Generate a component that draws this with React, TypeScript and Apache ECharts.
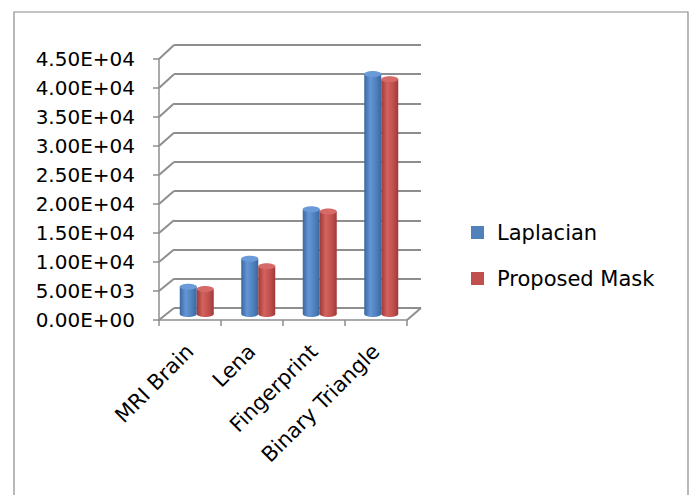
import React, { useEffect, useRef } from 'react';
import * as echarts from 'echarts';

const categories = ['MRI Brain', 'Lena', 'Fingerprint', 'Binary Triangle'];
const laplacian = [4700, 9500, 18000, 41200];
const proposedMask = [4300, 8200, 17600, 40300];
const seriesNames = ['Laplacian', 'Proposed Mask'];
const yMin = 0;
const yMax = 45000;
const yStep = 5000;

function fmt(v: number): string {
  const [m, e] = v.toExponential(2).split('e');
  const sign = e[0];
  const digits = e.slice(1).padStart(2, '0');
  return m + 'E' + sign + digits;
}

const FONT = 'DejaVu Sans';
const GRID_COLOR = '#8e8e8e';
const BAR_W = 17;

function grad(dark: string, light: string, mid: string) {
  return new echarts.graphic.LinearGradient(0, 0, 1, 0, [
    { offset: 0, color: dark },
    { offset: 0.35, color: light },
    { offset: 0.7, color: mid },
    { offset: 1, color: dark },
  ]);
}

export default function App() {
  const ref = useRef<HTMLDivElement>(null);
  useEffect(() => {
    const chart = echarts.init(ref.current!, null, { renderer: 'svg' });
    const grids = [
      { left: 159, top: 59, width: 248, height: 261 },
      { left: 174, top: 45, width: 247, height: 263 },
      { left: 166, top: 52, width: 246, height: 262 },
    ];
    const blue = grad('#3b679f', '#6496d6', '#4f81bd');
    const red = grad('#9c3b38', '#d4625e', '#c0504d');
    const barCommon = { xAxisIndex: 2, yAxisIndex: 2, barWidth: BAR_W, barGap: '0%' };

    const capSeries = (values: number[], side: number, topColor: string, bodyColor: any) => ({
      type: 'custom',
      xAxisIndex: 2,
      yAxisIndex: 2,
      silent: true,
      z: 3,
      data: values.map((v, i) => [i, v]),
      encode: { x: 0, y: 1 },
      renderItem: (params: any, api: any) => {
        const top = api.coord([api.value(0), api.value(1)]);
        const base = api.coord([api.value(0), 0]);
        const cx = top[0] + side * BAR_W / 2;
        return {
          type: 'group',
          children: [
            {
              type: 'ellipse',
              shape: { cx, cy: base[1], rx: BAR_W / 2, ry: 3 },
              style: { fill: bodyColor },
              z2: -1,
            },
            {
              type: 'ellipse',
              shape: { cx, cy: top[1], rx: BAR_W / 2, ry: 3 },
              style: { fill: topColor },
              z2: 1,
            },
          ],
        };
      },
    });

    chart.setOption({
      animation: false,
      backgroundColor: '#fff',
      grid: grids,
      xAxis: [
        {
          gridIndex: 0,
          type: 'category',
          data: categories,
          axisLine: { lineStyle: { color: GRID_COLOR, width: 1.5 } },
          axisTick: { show: true, length: 6, lineStyle: { color: GRID_COLOR, width: 1.5 } },
          axisLabel: { rotate: 45, fontSize: 21, fontFamily: FONT, color: '#000', margin: 28, interval: 0 },
        },
        { gridIndex: 1, type: 'category', data: categories, show: false },
        { gridIndex: 2, type: 'category', data: categories, show: false },
      ],
      yAxis: [
        {
          gridIndex: 0,
          type: 'value',
          min: yMin,
          max: yMax,
          interval: yStep,
          axisLine: { show: true, lineStyle: { color: GRID_COLOR, width: 1.5 } },
          axisTick: { show: true, length: 6, lineStyle: { color: GRID_COLOR, width: 1.5 } },
          splitLine: { show: false },
          axisLabel: { fontSize: 20, fontFamily: FONT, color: '#000', margin: 24, formatter: fmt },
        },
        {
          gridIndex: 1,
          type: 'value',
          min: yMin,
          max: yMax,
          interval: yStep,
          axisLine: { show: false },
          axisTick: { show: false },
          axisLabel: { show: false },
          splitLine: { show: true, lineStyle: { color: GRID_COLOR, width: 2 } },
        },
        { gridIndex: 2, type: 'value', min: yMin, max: yMax, show: false },
      ],
      legend: {
        orient: 'vertical',
        left: 466,
        top: 217,
        itemWidth: 13,
        itemHeight: 13,
        itemGap: 25,
        textStyle: { fontSize: 21, fontFamily: FONT, color: '#000', padding: [0, 0, 0, 8] },
        data: [
          { name: seriesNames[0], icon: 'rect', itemStyle: { color: '#4f81bd' } },
          { name: seriesNames[1], icon: 'rect', itemStyle: { color: '#c0504d' } },
        ],
      },
      series: [
        { ...barCommon, type: 'bar', name: seriesNames[0], data: laplacian, itemStyle: { color: blue }, z: 2 },
        { ...barCommon, type: 'bar', name: seriesNames[1], data: proposedMask, itemStyle: { color: red }, z: 2 },
        capSeries(laplacian, -1, '#6a9bd8', blue),
        capSeries(proposedMask, 1, '#d66a66', red),
      ],
    });

    const ticks: number[] = [];
    for (let v = yMin; v <= yMax; v += yStep) ticks.push(v);
    const graphics: any[] = [
      {
        type: 'rect',
        shape: { x: 14, y: 12, width: 674, height: 500 },
        style: { fill: 'none', stroke: '#8a8a8a', lineWidth: 1.2 },
        silent: true,
        z: -1,
      },
    ];
    ticks.forEach((v) => {
      const fy = chart.convertToPixel({ yAxisIndex: 0 }, v) as number;
      const by = chart.convertToPixel({ yAxisIndex: 1 }, v) as number;
      graphics.push({
        type: 'line',
        shape: { x1: grids[0].left, y1: fy, x2: grids[1].left, y2: by },
        style: { stroke: GRID_COLOR, lineWidth: 2 },
        silent: true,
      });
    });
    const fy0 = chart.convertToPixel({ yAxisIndex: 0 }, yMin) as number;
    const by0 = chart.convertToPixel({ yAxisIndex: 1 }, yMin) as number;
    graphics.push({
      type: 'line',
      shape: {
        x1: grids[0].left + grids[0].width,
        y1: fy0,
        x2: grids[1].left + grids[1].width,
        y2: by0,
      },
      style: { stroke: GRID_COLOR, lineWidth: 2 },
      silent: true,
    });
    chart.setOption({ graphic: graphics });
    return () => chart.dispose();
  }, []);
  return (
    <div
      ref={ref}
      style={{ position: 'absolute', left: 0, top: 0, width: 690, height: 495, background: '#fff' }}
    />
  );
}
